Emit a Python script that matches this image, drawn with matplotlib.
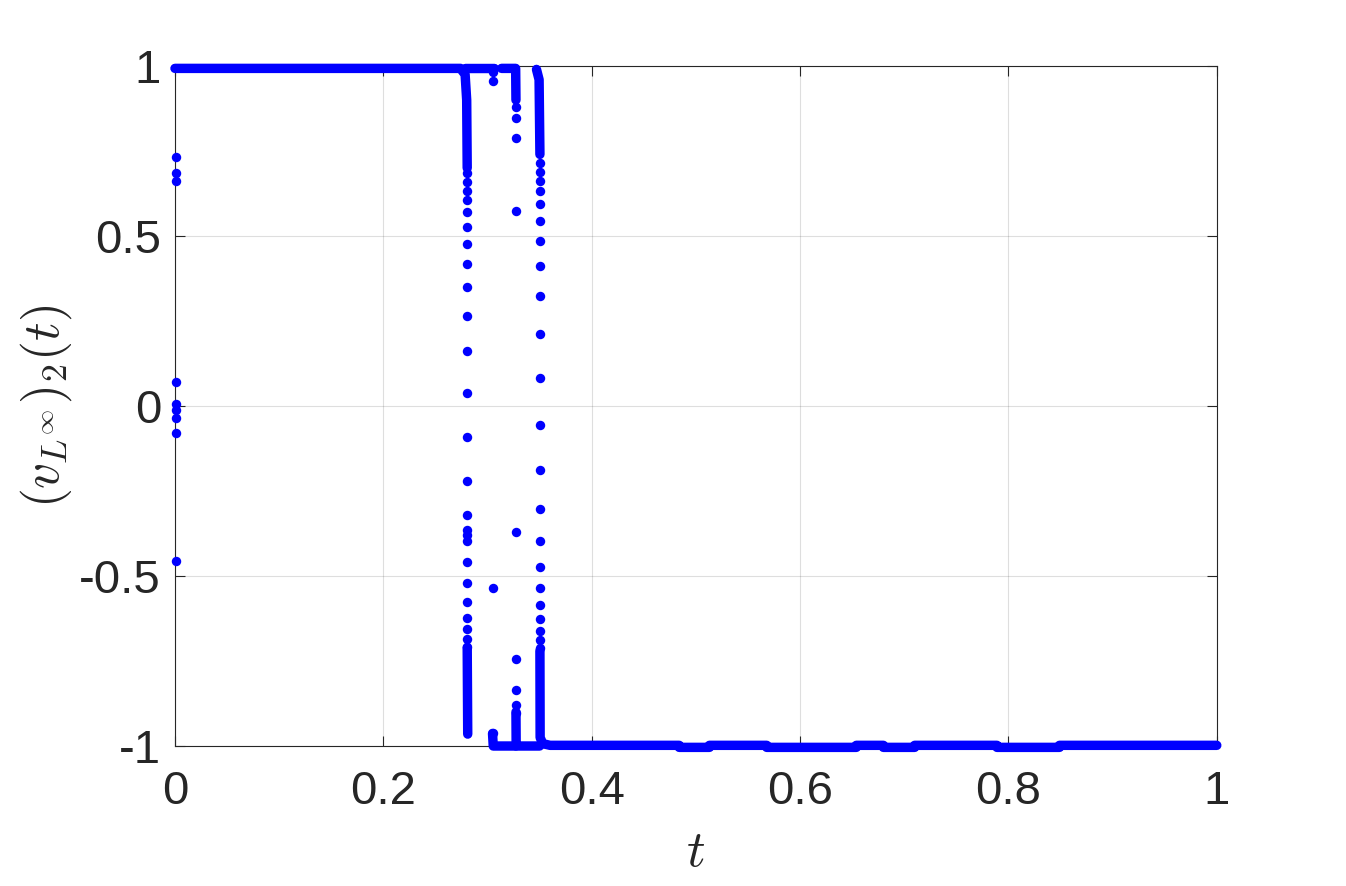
import matplotlib
matplotlib.use('Agg')
import matplotlib.pyplot as plt

# isolated points, grouped by the time column they sit in
t_start = 0.001
y_start = [0.733, 0.685, 0.662, 0.072, 0.005, -0.012, -0.035, -0.078, -0.455]

t_col1 = 0.2805
y_col1 = [0.684, 0.660, 0.633, 0.605, 0.571, 0.527, 0.476, 0.419, 0.349, 0.264,
          0.162, 0.039, -0.092, -0.222, -0.320, -0.365, -0.379, -0.398, -0.458,
          -0.521, -0.577, -0.623, -0.656, -0.685, -0.708]

t_col2 = 0.3048
y_col2 = [0.981, 0.956, -0.536, -0.963]

t_col3 = 0.3273
y_col3 = [0.880, 0.846, 0.787, 0.574, -0.372, -0.744, -0.835, -0.879, -0.904]

t_col4 = 0.3503
y_col4 = [0.714, 0.689, 0.663, 0.631, 0.593, 0.543, 0.484, 0.411, 0.324, 0.211,
          0.081, -0.057, -0.189, -0.304, -0.398, -0.474, -0.536, -0.586, -0.626,
          -0.661, -0.688, -0.713]

# runs where the dots are so close they merge into a band
runs_t = [
    [0.0, 0.274, 0.2785, 0.2800, 0.2805],
    [0.278, 0.3065],
    [0.2805, 0.2810],
    [0.3048, 0.3055, 0.3270],
    [0.3135, 0.3270, 0.3273],
    [0.3273, 0.3275, 0.3290, 0.3500],
    [0.3470, 0.3495, 0.3503],
    [0.3503, 0.3505, 0.3530, 0.3600, 0.484, 0.484, 0.513, 0.513, 0.568, 0.568,
     0.654, 0.654, 0.680, 0.680, 0.710, 0.710, 0.789, 0.789, 0.849, 0.849, 1.0],
]
runs_y = [
    [0.993, 0.993, 0.975, 0.90, 0.70],
    [0.993, 0.993],
    [-0.71, -0.965],
    [-0.963, -1.0, -1.0],
    [0.993, 0.993, 0.90],
    [-0.90, -1.0, -1.0, -1.0],
    [0.99, 0.96, 0.74],
    [-0.72, -0.975, -0.993, -0.998, -0.998, -1.004, -1.004, -0.998, -0.998, -1.004,
     -1.004, -0.998, -0.998, -1.004, -1.004, -0.998, -0.998, -1.004, -1.004, -0.998, -0.998],
]

blue = (0, 0, 1)
dark = (0.15, 0.15, 0.15)

plt.rcParams['font.family'] = ['Liberation Sans', 'DejaVu Sans']
plt.rcParams['mathtext.fontset'] = 'cm'

fig = plt.figure(figsize=(13.46, 8.86), dpi=100)
ax = fig.add_axes([0.130, 0.158, 0.774, 0.7675])

for rt, ry in zip(runs_t, runs_y):
    ax.plot(rt, ry, '-', color=blue, lw=6.8, solid_capstyle='round',
            solid_joinstyle='round', clip_on=False, zorder=3)

for t, ys in [(t_start, y_start), (t_col1, y_col1), (t_col2, y_col2),
              (t_col3, y_col3), (t_col4, y_col4)]:
    ax.plot([t] * len(ys), ys, 'o', color=blue, ms=6.8, mew=0,
            clip_on=False, zorder=3)

ax.set_xlim(0, 1)
ax.set_ylim(-1, 1)
ax.set_xticks([0, 0.2, 0.4, 0.6, 0.8, 1])
ax.set_xticklabels(['0', '0.2', '0.4', '0.6', '0.8', '1'])
ax.set_yticks([-1, -0.5, 0, 0.5, 1])
ax.set_yticklabels(['-1', '-0.5', '0', '0.5', '1'])

ax.grid(True, color=dark, alpha=0.15, lw=0.8)
ax.set_axisbelow(True)
ax.tick_params(direction='in', length=7, width=0.8, colors=dark,
               labelsize=34, top=True, right=True)
ax.tick_params(axis='x', pad=17)
ax.tick_params(axis='y', pad=10)
for s in ax.spines.values():
    s.set_color(dark)
    s.set_linewidth(0.8)
    s.set_zorder(2)

ax.set_xlabel('$t$', fontsize=37, color=dark, labelpad=10)
ax.set_ylabel('$(v_{L^\\infty})_2(t)$', fontsize=37, color=dark, labelpad=4)

fig.savefig('out.png', dpi=100)
